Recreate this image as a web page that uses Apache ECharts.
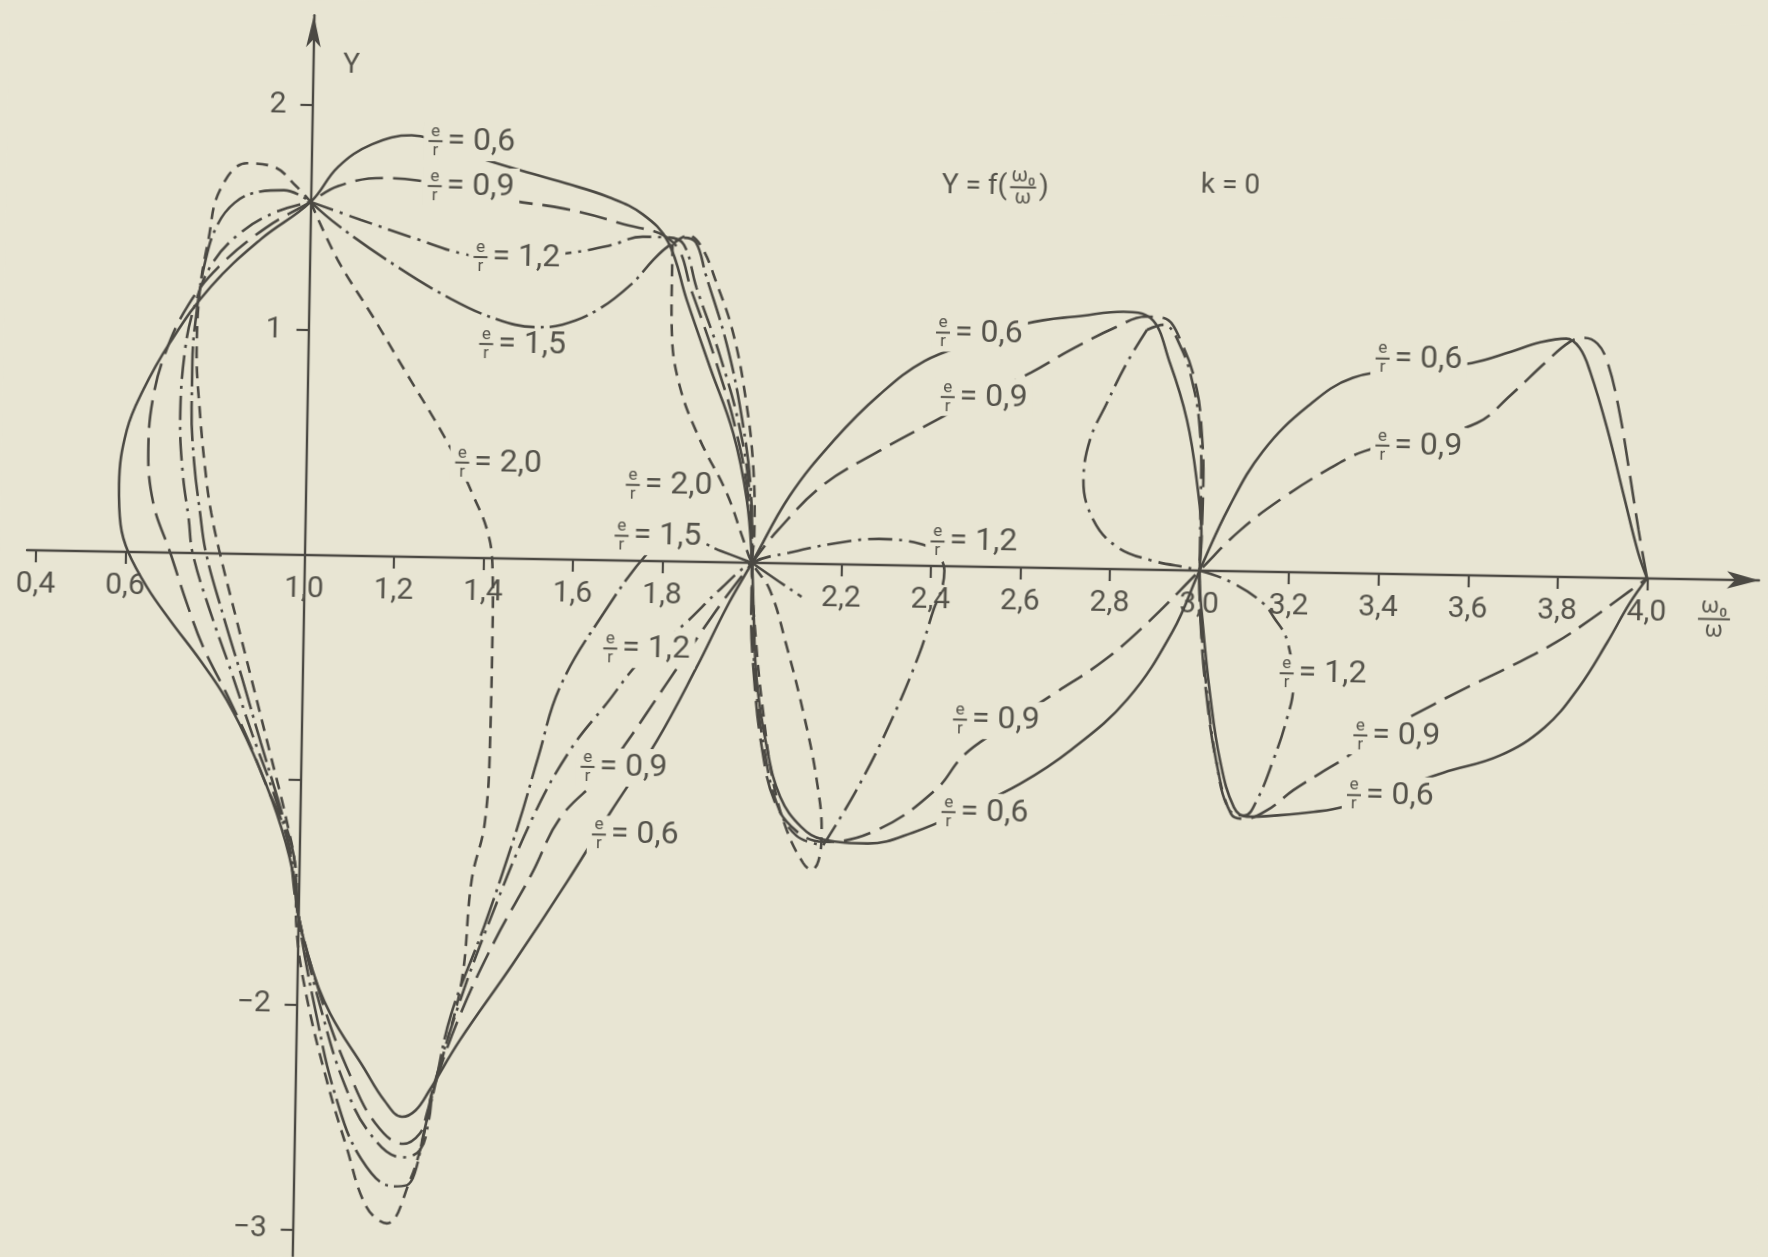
<!DOCTYPE html>
<html>
<head>
<meta charset="utf-8">
<script src="https://cdn.jsdelivr.net/npm/echarts@6/dist/echarts.min.js"></script>
<style>
  html, body { margin: 0; padding: 0; background: #e8e5d3; overflow: hidden; }
  /* the printed sheet sits slightly skewed */
  #chart { width: 1768px; height: 1257px; transform: rotate(1deg); transform-origin: 304.5px 555px; }
</style>
</head>
<body>
<div id="chart"></div>
<script>
// Y = f(w0/w), k = 0 : response curves for several e/r ratios.
// Each curve is a parametric loop, so points are listed in path order.

const xTickValues  = [0.4, 0.6, 1.2, 1.4, 1.6, 1.8, 2.0, 2.2, 2.4, 2.6, 2.8, 3.0, 3.2, 3.4, 3.6, 3.8, 4.0];
const xLabelValues = [0.4, 0.6, 1.0, 1.2, 1.4, 1.6, 1.8, 2.2, 2.4, 2.6, 2.8, 3.0, 3.2, 3.4, 3.6, 3.8, 4.0];
const yTickValues  = [2, 1, -1, -2, -3];
const yLabelValues = [2, 1, -2, -3];

// e/r = 0.6
const r06 = [
  [4.0,0],[3.979,0.114],[3.945,0.364],[3.905,0.663],[3.865,0.913],[3.84,1.02],[3.81,1.06],[3.75,1.04],
  [3.687,0.997],[3.6,0.944],[3.47,0.91],[3.335,0.869],[3.236,0.74],[3.137,0.536],[3.063,0.283],[3.0,0],
  [2.942,-0.273],[2.844,-0.577],[2.72,-0.807],[2.608,-0.961],[2.49,-1.08],[2.371,-1.186],[2.27,-1.239],
  [2.17,-1.225],[2.12,-1.17],[2.072,-1.038],[2.04,-0.817],[2.015,-0.521],[2.005,-0.2],[2.0,0],
  [1.986,0.278],[1.953,0.574],[1.898,0.868],[1.844,1.163],[1.80,1.42],[1.742,1.541],[1.666,1.614],
  [1.565,1.675],[1.458,1.732],[1.34,1.80],[1.223,1.874],[1.135,1.831],[1.060,1.728],[1.0,1.57],
  [0.89,1.40],[0.78,1.185],[0.69,0.93],[0.633,0.72],[0.598,0.54],[0.583,0.30],[0.588,0.12],[0.606,0],
  [0.649,-0.154],[0.702,-0.30],[0.771,-0.476],[0.832,-0.651],[0.893,-0.886],[0.948,-1.151],[0.985,-1.40],
  [1.0,-1.6],[1.03,-1.82],[1.075,-2.036],[1.151,-2.271],[1.20,-2.42],[1.24,-2.49],[1.27,-2.46],[1.30,-2.37],
  [1.366,-2.145],[1.482,-1.80],[1.60,-1.43],[1.692,-1.125],[1.794,-0.80],[1.88,-0.47],[1.945,-0.20],[2.0,0],
  [2.081,0.299],[2.179,0.553],[2.278,0.757],[2.378,0.911],[2.49,1.0],[2.603,1.085],[2.729,1.124],[2.82,1.145],
  [2.88,1.12],[2.926,0.919],[2.966,0.668],[2.99,0.402],[3.003,0.136],[3.0,0],[3.01,-0.25],[3.028,-0.545],
  [3.053,-0.841],[3.086,-1.05],[3.115,-1.09],[3.189,-1.081],[3.264,-1.064],[3.33,-1.039],[3.44,-0.96],
  [3.553,-0.879],[3.678,-0.799],[3.777,-0.67],[3.851,-0.492],[3.913,-0.289],[3.962,-0.112],[4.0,0]
];

// e/r = 0.9
const r09 = [
  [4.0,0],[3.979,0.215],[3.957,0.465],[3.929,0.764],[3.902,0.964],[3.88,1.04],[3.85,1.065],[3.818,1.045],
  [3.763,0.949],[3.689,0.806],[3.614,0.678],[3.49,0.61],[3.364,0.544],[3.289,0.467],[3.189,0.338],[3.09,0.184],[3.0,0],
  [2.892,-0.224],[2.792,-0.404],[2.68,-0.558],[2.56,-0.72],[2.48,-0.84],[2.42,-0.993],[2.295,-1.173],
  [2.17,-1.235],[2.11,-1.19],[2.06,-1.06],[2.03,-0.83],[2.01,-0.53],[2.0,-0.2],[2.0,0],
  [1.99,0.28],[1.96,0.58],[1.91,0.90],[1.855,1.20],[1.81,1.42],[1.692,1.499],[1.566,1.560],[1.452,1.591],
  [1.33,1.64],[1.237,1.674],[1.161,1.682],[1.061,1.643],[1.0,1.57],
  [0.90,1.45],[0.80,1.28],[0.73,1.10],[0.68,0.88],[0.655,0.68],[0.647,0.47],[0.66,0.22],[0.70,0],
  [0.739,-0.224],[0.777,-0.416],[0.831,-0.622],[0.878,-0.813],[0.925,-1.034],[0.971,-1.254],[1.0,-1.6],
  [1.06,-2.0],[1.12,-2.30],[1.18,-2.52],[1.243,-2.61],[1.28,-2.563],[1.295,-2.474],[1.308,-2.37],
  [1.36,-2.06],[1.44,-1.70],[1.52,-1.40],[1.581,-1.15],[1.669,-0.963],[1.72,-0.828],[1.814,-0.543],[1.92,-0.22],[2.0,0],
  [2.057,0.148],[2.156,0.352],[2.28,0.507],[2.38,0.62],[2.50,0.75],[2.617,0.869],[2.705,0.973],[2.805,1.077],
  [2.87,1.125],[2.91,1.12],[2.955,0.994],[2.987,0.803],[2.999,0.625],[3.005,0.403],[3.003,0.15],[3.0,0],
  [3.005,-0.25],[3.02,-0.55],[3.045,-0.85],[3.08,-1.08],[3.11,-1.10],[3.16,-1.06],[3.218,-0.969],
  [3.277,-0.892],[3.336,-0.817],[3.40,-0.72],[3.476,-0.634],[3.586,-0.515],[3.70,-0.40],[3.80,-0.29],
  [3.88,-0.18],[3.94,-0.09],[4.0,0]
];

// e/r = 1.2 : main loop (split at its sharp turn near 2.17) and the loop around 3.0
const r12a = [
  [1.0,1.57],[1.113,1.494],[1.239,1.413],[1.341,1.352],[1.45,1.33],[1.567,1.359],[1.668,1.398],[1.743,1.441],
  [1.80,1.44],[1.835,1.41],[1.865,1.22],[1.92,0.92],[1.967,0.60],[1.993,0.29],[2.0,0],[2.003,-0.2],
  [2.012,-0.52],[2.035,-0.83],[2.065,-1.07],[2.11,-1.21],[2.17,-1.25]
];
const r12b = [
  [2.17,-1.25],[2.243,-0.999],[2.316,-0.696],[2.377,-0.393],[2.408,-0.191],[2.425,-0.10],[2.43,-0.02],
  [2.41,0.06],[2.372,0.099],[2.283,0.116],[2.183,0.092],[2.083,0.048],[2.0,0],[1.93,-0.12],[1.85,-0.28],
  [1.753,-0.449],[1.681,-0.636],[1.60,-0.85],[1.52,-1.15],[1.43,-1.6],[1.36,-2.0],[1.308,-2.37],[1.30,-2.50],
  [1.281,-2.637],[1.24,-2.67],[1.17,-2.57],[1.11,-2.35],[1.055,-2.02],[1.0,-1.6],[0.98,-1.32],[0.94,-1.06],
  [0.89,-0.80],[0.84,-0.52],[0.79,-0.25],[0.75,0],[0.74,0.15],[0.725,0.35],[0.717,0.6],[0.725,0.90],
  [0.745,1.10],[0.78,1.28],[0.84,1.42],[0.92,1.52],[1.0,1.57]
];
const r12c = [
  [2.873,1.066],[2.829,0.916],[2.786,0.736],[2.75,0.572],[2.737,0.394],[2.761,0.216],[2.814,0.1],[2.889,0.043],
  [3.0,0],[3.076,-0.054],[3.144,-0.141],[3.167,-0.2],[3.198,-0.302],[3.214,-0.509],[3.2,-0.658],[3.172,-0.837],
  [3.137,-1.016],[3.11,-1.085],[3.075,-1.06],[3.045,-0.85],[3.022,-0.55],[3.006,-0.25],[3.0,0],[3.0,0.4],
  [2.995,0.63],[2.98,0.81],[2.95,0.99],[2.91,1.09],[2.873,1.066]
];

// e/r = 1.5
const r15a = [
  [1.0,1.57],[1.062,1.468],[1.190,1.296],[1.317,1.150],[1.419,1.064],[1.507,1.031],[1.567,1.044],[1.645,1.112],
  [1.720,1.23],[1.769,1.342],[1.80,1.40],[1.835,1.44],[1.862,1.42],[1.885,1.28],[1.935,0.97],[1.972,0.64],
  [1.995,0.31],[2.0,0]
];
const r15b = [
  [2.0,0],[1.93,0.05],[1.853,0.104],[1.81,0.09],[1.772,0.049],[1.67,-0.237],[1.576,-0.566],[1.53,-0.88],
  [1.489,-1.176],[1.417,-1.63],[1.345,-2.034],[1.31,-2.37],[1.29,-2.55],[1.27,-2.741],[1.253,-2.794],
  [1.223,-2.80],[1.15,-2.68],[1.09,-2.40],[1.045,-2.05],[1.0,-1.6],[0.99,-1.36],[0.955,-1.12],[0.91,-0.84],
  [0.865,-0.55],[0.82,-0.27],[0.78,0],[0.765,0.18],[0.75,0.40],[0.742,0.65],[0.742,0.85],[0.75,1.08],
  [0.765,1.28],[0.79,1.45],[0.83,1.56],[0.886,1.612],[0.94,1.62],[1.0,1.57]
];
const r15c = [[2.0,0],[2.06,-0.08],[2.112,-0.147]];

// e/r = 2.0 : loop through 1.0 and the figure-eight through 2.0
const r20a = [
  [1.0,1.57],[1.062,1.317],[1.142,1.069],[1.219,0.821],[1.297,0.573],[1.34,0.42],[1.375,0.275],[1.407,0.125],
  [1.42,-0.025],[1.423,-0.326],[1.422,-0.777],[1.413,-1.179],[1.386,-1.433],[1.368,-1.878],[1.33,-2.206],
  [1.305,-2.384],[1.288,-2.578],[1.26,-2.772],[1.21,-2.965],[1.164,-2.894],[1.117,-2.629],[1.07,-2.333],
  [1.022,-1.964],[0.997,-1.669],[0.992,-1.402],[0.97,-1.18],[0.931,-0.885],[0.891,-0.59],[0.851,-0.295],
  [0.811,0],[0.79,0.18],[0.778,0.325],[0.761,0.622],[0.751,0.918],[0.756,1.17],[0.773,1.393],[0.797,1.616],
  [0.856,1.737],[0.915,1.724],[0.968,1.637],[1.0,1.57]
];
const r20b = [
  [1.81,1.41],[1.81,1.236],[1.812,1.014],[1.832,0.777],[1.879,0.542],[1.941,0.307],[1.98,0.1],[2.0,0],
  [2.041,-0.12],[2.081,-0.371],[2.121,-0.666],[2.153,-0.962],[2.166,-1.198],[2.16,-1.32],[2.145,-1.36],
  [2.126,-1.331],[2.088,-1.186],[2.055,-0.965],[2.031,-0.669],[2.012,-0.35],[2.0,0],[2.004,0.13],
  [1.999,0.427],[1.98,0.723],[1.949,1.019],[1.91,1.24],[1.875,1.40],[1.845,1.45],[1.81,1.41]
];

// curve captions: anchor (left edge, middle) and the e/r value; mask = curve is broken behind it
const curveLabels = [
  [1.261, 1.85, '0,6', true],  [1.261, 1.65, '0,9', true],  [1.366, 1.338, '1,2', true],
  [1.382, 0.952, '1,5', false], [1.333, 0.423, '2,0', true],
  [1.715, 0.337, '2,0', false], [1.692, 0.11, '1,5', true],  [1.671, -0.392, '1,2', true],
  [1.625, -0.92, '0,9', true],  [1.653, -1.22, '0,6', true],
  [2.402, 1.038, '0,6', true],  [2.415, 0.752, '0,9', true],  [2.398, 0.109, '1,2', true],
  [2.455, -0.681, '0,9', true], [2.433, -1.093, '0,6', true],
  [3.385, 0.957, '0,6', true],  [3.388, 0.57, '0,9', true],   [3.183, -0.45, '1,2', true],
  [3.35, -0.72, '0,9', true],   [3.338, -0.986, '0,6', true]
];

const PAPER = '#e8e5d3';
const INK = '#4b4943';
const TEXT = '#55534b';
const FONT = "Roboto, 'Liberation Sans', sans-serif";

const X_MIN = 0.38, X_MAX = 4.25, Y_MIN = -3.2, Y_MAX = 2.4;
const GRID = { left: 27, top: 15.2, width: 1732.2, height: 1259.5 };
// the axes cross at w0/w = 1, Y = 0
const X_CROSS = 1.0, Y_CROSS = 0;

const DASH = {
  r06: 'solid',
  r09: [28, 10],
  r12: [24, 7, 3, 7],
  r15: [40, 6, 3, 6],
  r20: [12, 8]
};

function curve(data, dash) {
  return {
    type: 'line', data: data, symbol: 'none', smooth: 0.4, clip: false, silent: true,
    animation: false, z: 2,
    lineStyle: { color: INK, width: 2.6, type: dash }
  };
}

const decimal = v => v.toFixed(1).replace('.', ',');

// shift the axes inward so that they cross at (X_CROSS, Y_CROSS)
const yAxisShift = -(X_CROSS - X_MIN) / (X_MAX - X_MIN) * GRID.width;
const xAxisShift = -(Y_CROSS - Y_MIN) / (Y_MAX - Y_MIN) * GRID.height;

const chart = echarts.init(document.getElementById('chart'), null, { renderer: 'canvas' });

chart.setOption({
  backgroundColor: PAPER,
  animation: false,
  grid: Object.assign({ containLabel: false, outerBoundsMode: 'none' }, GRID),
  xAxis: {
    type: 'value', min: X_MIN, max: X_MAX, position: 'bottom', offset: xAxisShift,
    axisLine: { show: true, onZero: false, symbol: ['none', 'arrow'], symbolSize: [13, 32],
                lineStyle: { color: INK, width: 2.4 } },
    axisTick: { show: true, length: 12, customValues: xTickValues, lineStyle: { color: INK, width: 2.2 } },
    axisLabel: { show: true, customValues: xLabelValues, formatter: decimal, margin: 20,
                 fontSize: 30, color: TEXT, fontFamily: FONT },
    splitLine: { show: false }
  },
  yAxis: {
    type: 'value', min: Y_MIN, max: Y_MAX, position: 'left', offset: yAxisShift,
    axisLine: { show: true, onZero: false, symbol: ['none', 'arrow'], symbolSize: [11, 32],
                lineStyle: { color: INK, width: 2.4 } },
    axisTick: { show: true, length: 12, customValues: yTickValues, lineStyle: { color: INK, width: 2.2 } },
    axisLabel: { show: true, customValues: yLabelValues, formatter: v => (v < 0 ? '\u2212' + (-v) : '' + v),
                 margin: 26, fontSize: 30, color: TEXT, fontFamily: FONT },
    splitLine: { show: false }
  },
  series: [
    curve(r06, DASH.r06),
    curve(r09, DASH.r09),
    curve(r12a, DASH.r12), curve(r12b, DASH.r12), curve(r12c, DASH.r12),
    curve(r15a, DASH.r15), curve(r15b, DASH.r15), curve(r15c, DASH.r15),
    curve(r20a, DASH.r20), curve(r20b, DASH.r20)
  ]
});

// ---- text overlays (captions, axis names, heading) ----
const toPx = (x, y) => chart.convertToPixel({ xAxisIndex: 0, yAxisIndex: 0 }, [x, y]);
const measure = document.createElement('canvas').getContext('2d');
function textWidth(str, size) { measure.font = size + 'px ' + FONT; return measure.measureText(str).width; }

function fraction(cx, cy, top, bottom, size, barW) {
  return [
    { type: 'text', x: cx, y: cy - 1, z: 120,
      style: { text: top, fontSize: size, fontFamily: FONT, fill: TEXT, align: 'center', verticalAlign: 'bottom' } },
    { type: 'line', z: 120, shape: { x1: cx - barW / 2, y1: cy, x2: cx + barW / 2, y2: cy },
      style: { stroke: TEXT, lineWidth: 2 } },
    { type: 'text', x: cx, y: cy + 1, z: 120,
      style: { text: bottom, fontSize: size, fontFamily: FONT, fill: TEXT, align: 'center', verticalAlign: 'top' } }
  ];
}

const overlays = [];
const CAP = 32, FR = 17, FRW = 14;
curveLabels.forEach(([x, y, val, mask]) => {
  const [px, py] = toPx(x, y);
  const rest = '= ' + val;
  const w = FRW + 5 + textWidth(rest, CAP);
  if (mask) {
    overlays.push({ type: 'rect', z: 110, shape: { x: px - 5, y: py - 19, width: w + 10, height: 38 },
                    style: { fill: PAPER } });
  }
  overlays.push(...fraction(px + FRW / 2, py, 'e', 'r', FR, FRW));
  overlays.push({ type: 'text', x: px + FRW + 5, y: py, z: 120,
                  style: { text: rest, fontSize: CAP, fontFamily: FONT, fill: TEXT, verticalAlign: 'middle' } });
});

// ordinate name
{
  const [px, py] = toPx(1.086, 2.18);
  overlays.push({ type: 'text', x: px, y: py, z: 120,
                  style: { text: 'Y', fontSize: 28, fontFamily: FONT, fill: TEXT, align: 'center', verticalAlign: 'middle' } });
}
// abscissa name w0 / w
{
  const [px, py] = toPx(4.151, -0.176);
  overlays.push(...fraction(px, py, 'ω\u2080', 'ω', 22, 32));
}
// heading: Y = f(w0/w)   k = 0
{
  const [px, py] = toPx(2.409, 1.69);
  const head = 'Y = f(';
  const hw = textWidth(head, 28);
  overlays.push({ type: 'text', x: px, y: py, z: 120,
                  style: { text: head, fontSize: 28, fontFamily: FONT, fill: TEXT, verticalAlign: 'middle' } });
  overlays.push(...fraction(px + hw + 16, py, 'ω\u2080', 'ω', 20, 26));
  overlays.push({ type: 'text', x: px + hw + 32, y: py, z: 120,
                  style: { text: ')', fontSize: 28, fontFamily: FONT, fill: TEXT, verticalAlign: 'middle' } });
  const [kx, ky] = toPx(2.988, 1.71);
  overlays.push({ type: 'text', x: kx, y: ky, z: 120,
                  style: { text: 'k = 0', fontSize: 28, fontFamily: FONT, fill: TEXT, verticalAlign: 'middle' } });
}

chart.setOption({ graphic: { elements: overlays } });
</script>
</body>
</html>
